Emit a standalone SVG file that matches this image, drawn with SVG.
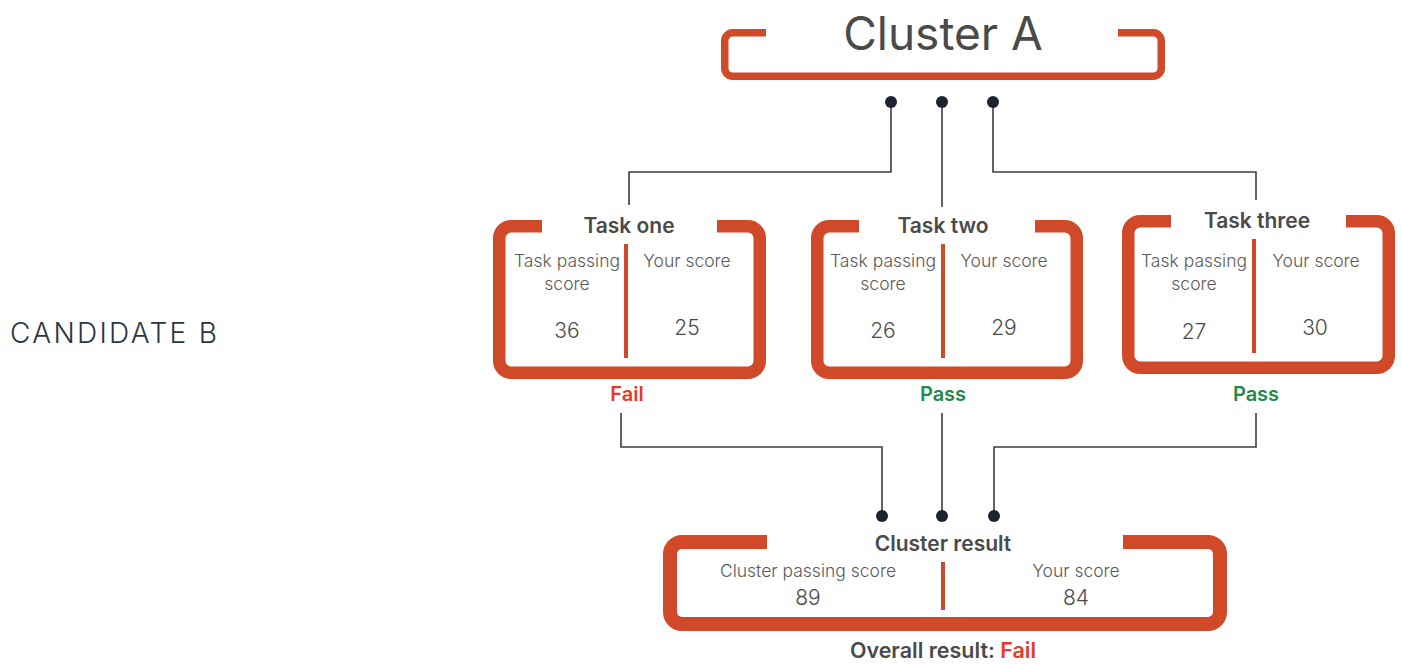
<svg xmlns="http://www.w3.org/2000/svg" width="1402" height="664" viewBox="0 0 1402 664">
<style>
.box{fill:none;stroke:#d04a29;stroke-linejoin:round}
.div{stroke:#d04a29;stroke-width:4}
.title{font-family:Inter,Lato,"Liberation Sans",sans-serif;font-weight:600;fill:#4a4a4a;text-anchor:middle}
.lbl{font-family:Inter,Lato,"Liberation Sans",sans-serif;font-weight:300;fill:#5a5a5a;font-size:17.5px;text-anchor:middle}
.num{font-family:Inter,Lato,"Liberation Sans",sans-serif;font-weight:300;fill:#4a4a4a;font-size:21px;text-anchor:middle}
.res{font-family:Inter,Lato,"Liberation Sans",sans-serif;font-weight:600;font-size:20px;text-anchor:middle}
.fail{fill:#e63a2b}
.pass{fill:#1f8a4c}
.conn{fill:none;stroke:#3a3d42;stroke-width:1.6}
.dot{fill:#1b2330}
</style>
<rect width="1402" height="664" fill="#fff"/>
<text x="10" y="343" font-family="Inter,Lato,'Liberation Sans',sans-serif" font-weight="300" font-size="28" letter-spacing="2.3" fill="#2c3540">CANDIDATE B</text>

<g id="cluster-a">
<path class="box" stroke-width="7.5" d="M766 32.75 H732.75 A8 8 0 0 0 724.75 40.75 V68.75 A8 8 0 0 0 732.75 76.25 H1153.25 A8 8 0 0 0 1161.25 68.25 V40.75 A8 8 0 0 0 1153.25 32.75 H1118"/>
<text class="title" x="943" y="50" font-size="46" style="font-weight:400">Cluster A</text>
</g>

<g id="task-one">
<path class="box" stroke-width="12.5" d="M542 226.25 H511.25 A12 12 0 0 0 499.25 238.25 V360.75 A12 12 0 0 0 511.25 372.75 H747.75 A12 12 0 0 0 759.75 360.75 V238.25 A12 12 0 0 0 747.75 226.25 H717"/>
<text class="title" x="629" y="233" font-size="21">Task one</text>
<line class="div" x1="626" y1="244" x2="626" y2="358"/>
<text class="lbl" x="567" y="267">Task passing</text>
<text class="lbl" x="567" y="290">score</text>
<text class="lbl" x="687" y="267">Your score</text>
<text class="num" x="567" y="338">36</text>
<text class="num" x="687" y="335">25</text>
<text class="res fail" x="627" y="401">Fail</text>
</g>

<g id="task-two">
<path class="box" stroke-width="12.5" d="M859 226.25 H829.25 A12 12 0 0 0 817.25 238.25 V360.75 A12 12 0 0 0 829.25 372.75 H1064.75 A12 12 0 0 0 1076.75 360.75 V238.25 A12 12 0 0 0 1064.75 226.25 H1035"/>
<text class="title" x="943" y="233" font-size="21">Task two</text>
<line class="div" x1="943" y1="244" x2="943" y2="358"/>
<text class="lbl" x="883" y="267">Task passing</text>
<text class="lbl" x="883" y="290">score</text>
<text class="lbl" x="1004" y="267">Your score</text>
<text class="num" x="883" y="338">26</text>
<text class="num" x="1004" y="335">29</text>
<text class="res pass" x="943" y="401">Pass</text>
</g>

<g id="task-three">
<path class="box" stroke-width="12.5" d="M1171 221.25 H1140.25 A12 12 0 0 0 1128.25 233.25 V355.75 A12 12 0 0 0 1140.25 367.75 H1376.75 A12 12 0 0 0 1388.75 355.75 V233.25 A12 12 0 0 0 1376.75 221.25 H1346"/>
<text class="title" x="1257" y="228" font-size="21">Task three</text>
<line class="div" x1="1254" y1="239" x2="1254" y2="353"/>
<text class="lbl" x="1194" y="267">Task passing</text>
<text class="lbl" x="1194" y="290">score</text>
<text class="lbl" x="1316" y="267">Your score</text>
<text class="num" x="1194" y="339">27</text>
<text class="num" x="1315" y="335">30</text>
<text class="res pass" x="1256" y="401">Pass</text>
</g>

<g id="cluster-result">
<path class="box" stroke-width="14" d="M767 542 H682 A12 12 0 0 0 670 554 V612 A12 12 0 0 0 682 624 H1208 A12 12 0 0 0 1220 612 V554 A12 12 0 0 0 1208 542 H1123"/>
<text class="title" x="943" y="551" font-size="21">Cluster result</text>
<line class="div" x1="943" y1="562" x2="943" y2="610"/>
<text class="lbl" x="808" y="577">Cluster passing score</text>
<text class="num" x="808" y="605">89</text>
<text class="lbl" x="1076" y="577">Your score</text>
<text class="num" x="1076" y="605">84</text>
</g>

<g id="overall-result">
<text class="title" x="943" y="658" font-size="21.5">Overall result: <tspan class="fail">Fail</tspan></text>
</g>

<g id="connectors">
<path class="conn" d="M891 102 V172 H629 V205"/>
<path class="conn" d="M942 102 V207"/>
<path class="conn" d="M993 102 V172 H1256 V200"/>
<path class="conn" d="M621 413 V447 H882 V516"/>
<path class="conn" d="M942 413 V516"/>
<path class="conn" d="M1256 413 V447 H994 V516"/>
<circle class="dot" cx="891" cy="102" r="6"/>
<circle class="dot" cx="942" cy="102" r="6"/>
<circle class="dot" cx="993" cy="102" r="6"/>
<circle class="dot" cx="882" cy="516" r="6"/>
<circle class="dot" cx="942" cy="516" r="6"/>
<circle class="dot" cx="994" cy="516" r="6"/>
</g>
</svg>
